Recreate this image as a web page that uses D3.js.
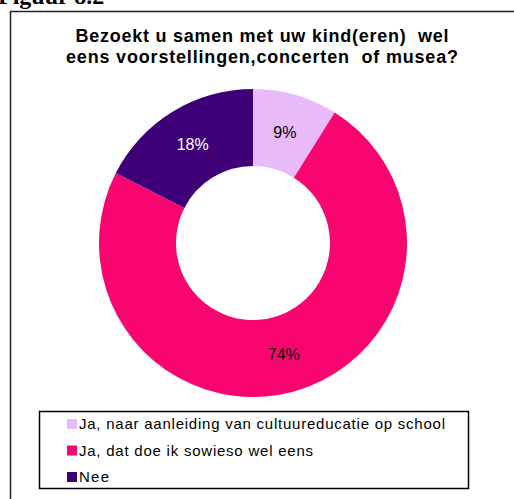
<!DOCTYPE html>
<html><head><meta charset="utf-8">
<script src="https://cdn.jsdelivr.net/npm/d3@7"></script>
<style>body{margin:0;background:#fff}svg{display:block}text{white-space:pre}</style>
</head><body><svg id="c" width="514" height="499"></svg>
<script>
const categories = ["Ja, naar aanleiding van cultuureducatie op school", "Ja, dat doe ik sowieso wel eens", "Nee"];
const values = [8.9, 73.6, 17.5];
const labels = ["9%", "74%", "18%"];
const colors = ["#E8BAF9", "#F8056F", "#3F0077"];
const labelColors = ["#000", "#000", "#fff"];
const titleLines = ["Bezoekt u samen met uw kind(eren)  wel", "eens voorstellingen,concerten  of musea?"];
const titleWidths = [373, 392];
const legendWidths = [366, 234, 30];

const svg = d3.select("#c");
svg.append("text").attr("x", -2).attr("y", 4).attr("font-family", "Liberation Serif, Times New Roman, serif")
  .attr("font-weight", "bold").attr("font-size", 24).text("Figuur 8.2");
svg.append("path").attr("d", "M10.5,530 V11.5 H530").attr("fill", "none").attr("stroke", "#222").attr("stroke-width", 1.5);

svg.selectAll("text.t").data(titleLines).enter().append("text").attr("class", "t")
  .attr("x", 262).attr("y", (d, i) => 42 + i * 21).attr("text-anchor", "middle")
  .attr("font-family", "Liberation Sans, Arial, sans-serif").attr("font-weight", "bold").attr("font-size", 18)
  .attr("textLength", (d, i) => titleWidths[i]).attr("lengthAdjust", "spacing")
  .text(d => d);

const cx = 253, cy = 243, R = 154, r = 77;
const pie = d3.pie().sort(null).value(d => d);
const arcs = pie(values);
const arc = d3.arc().innerRadius(r).outerRadius(R);
const g = svg.append("g").attr("transform", `translate(${cx},${cy})`);
g.selectAll("path").data(arcs).enter().append("path").attr("d", arc).attr("fill", (d, i) => colors[i]);
g.selectAll("text").data(arcs).enter().append("text")
  .attr("transform", d => `translate(${arc.centroid(d)})`)
  .attr("dy", "0.35em").attr("text-anchor", "middle")
  .attr("font-family", "Liberation Sans, Arial, sans-serif").attr("font-size", 16)
  .attr("fill", (d, i) => labelColors[i]).text((d, i) => labels[i]);

svg.append("rect").attr("x", 39.5).attr("y", 411.5).attr("width", 429).attr("height", 77)
  .attr("fill", "#fff").attr("stroke", "#000").attr("stroke-width", 1.5);
const lg = svg.selectAll("g.l").data(categories).enter().append("g").attr("class", "l")
  .attr("transform", (d, i) => `translate(67,${429 + i * 26.5})`);
lg.append("rect").attr("x", 0).attr("y", -10).attr("width", 10).attr("height", 10).attr("fill", (d, i) => colors[i]);
lg.append("text").attr("x", 12).attr("y", 0).attr("font-family", "Liberation Sans, Arial, sans-serif")
  .attr("font-size", 15).attr("textLength", (d, i) => legendWidths[i]).attr("lengthAdjust", "spacing")
  .text(d => d);
</script></body></html>
